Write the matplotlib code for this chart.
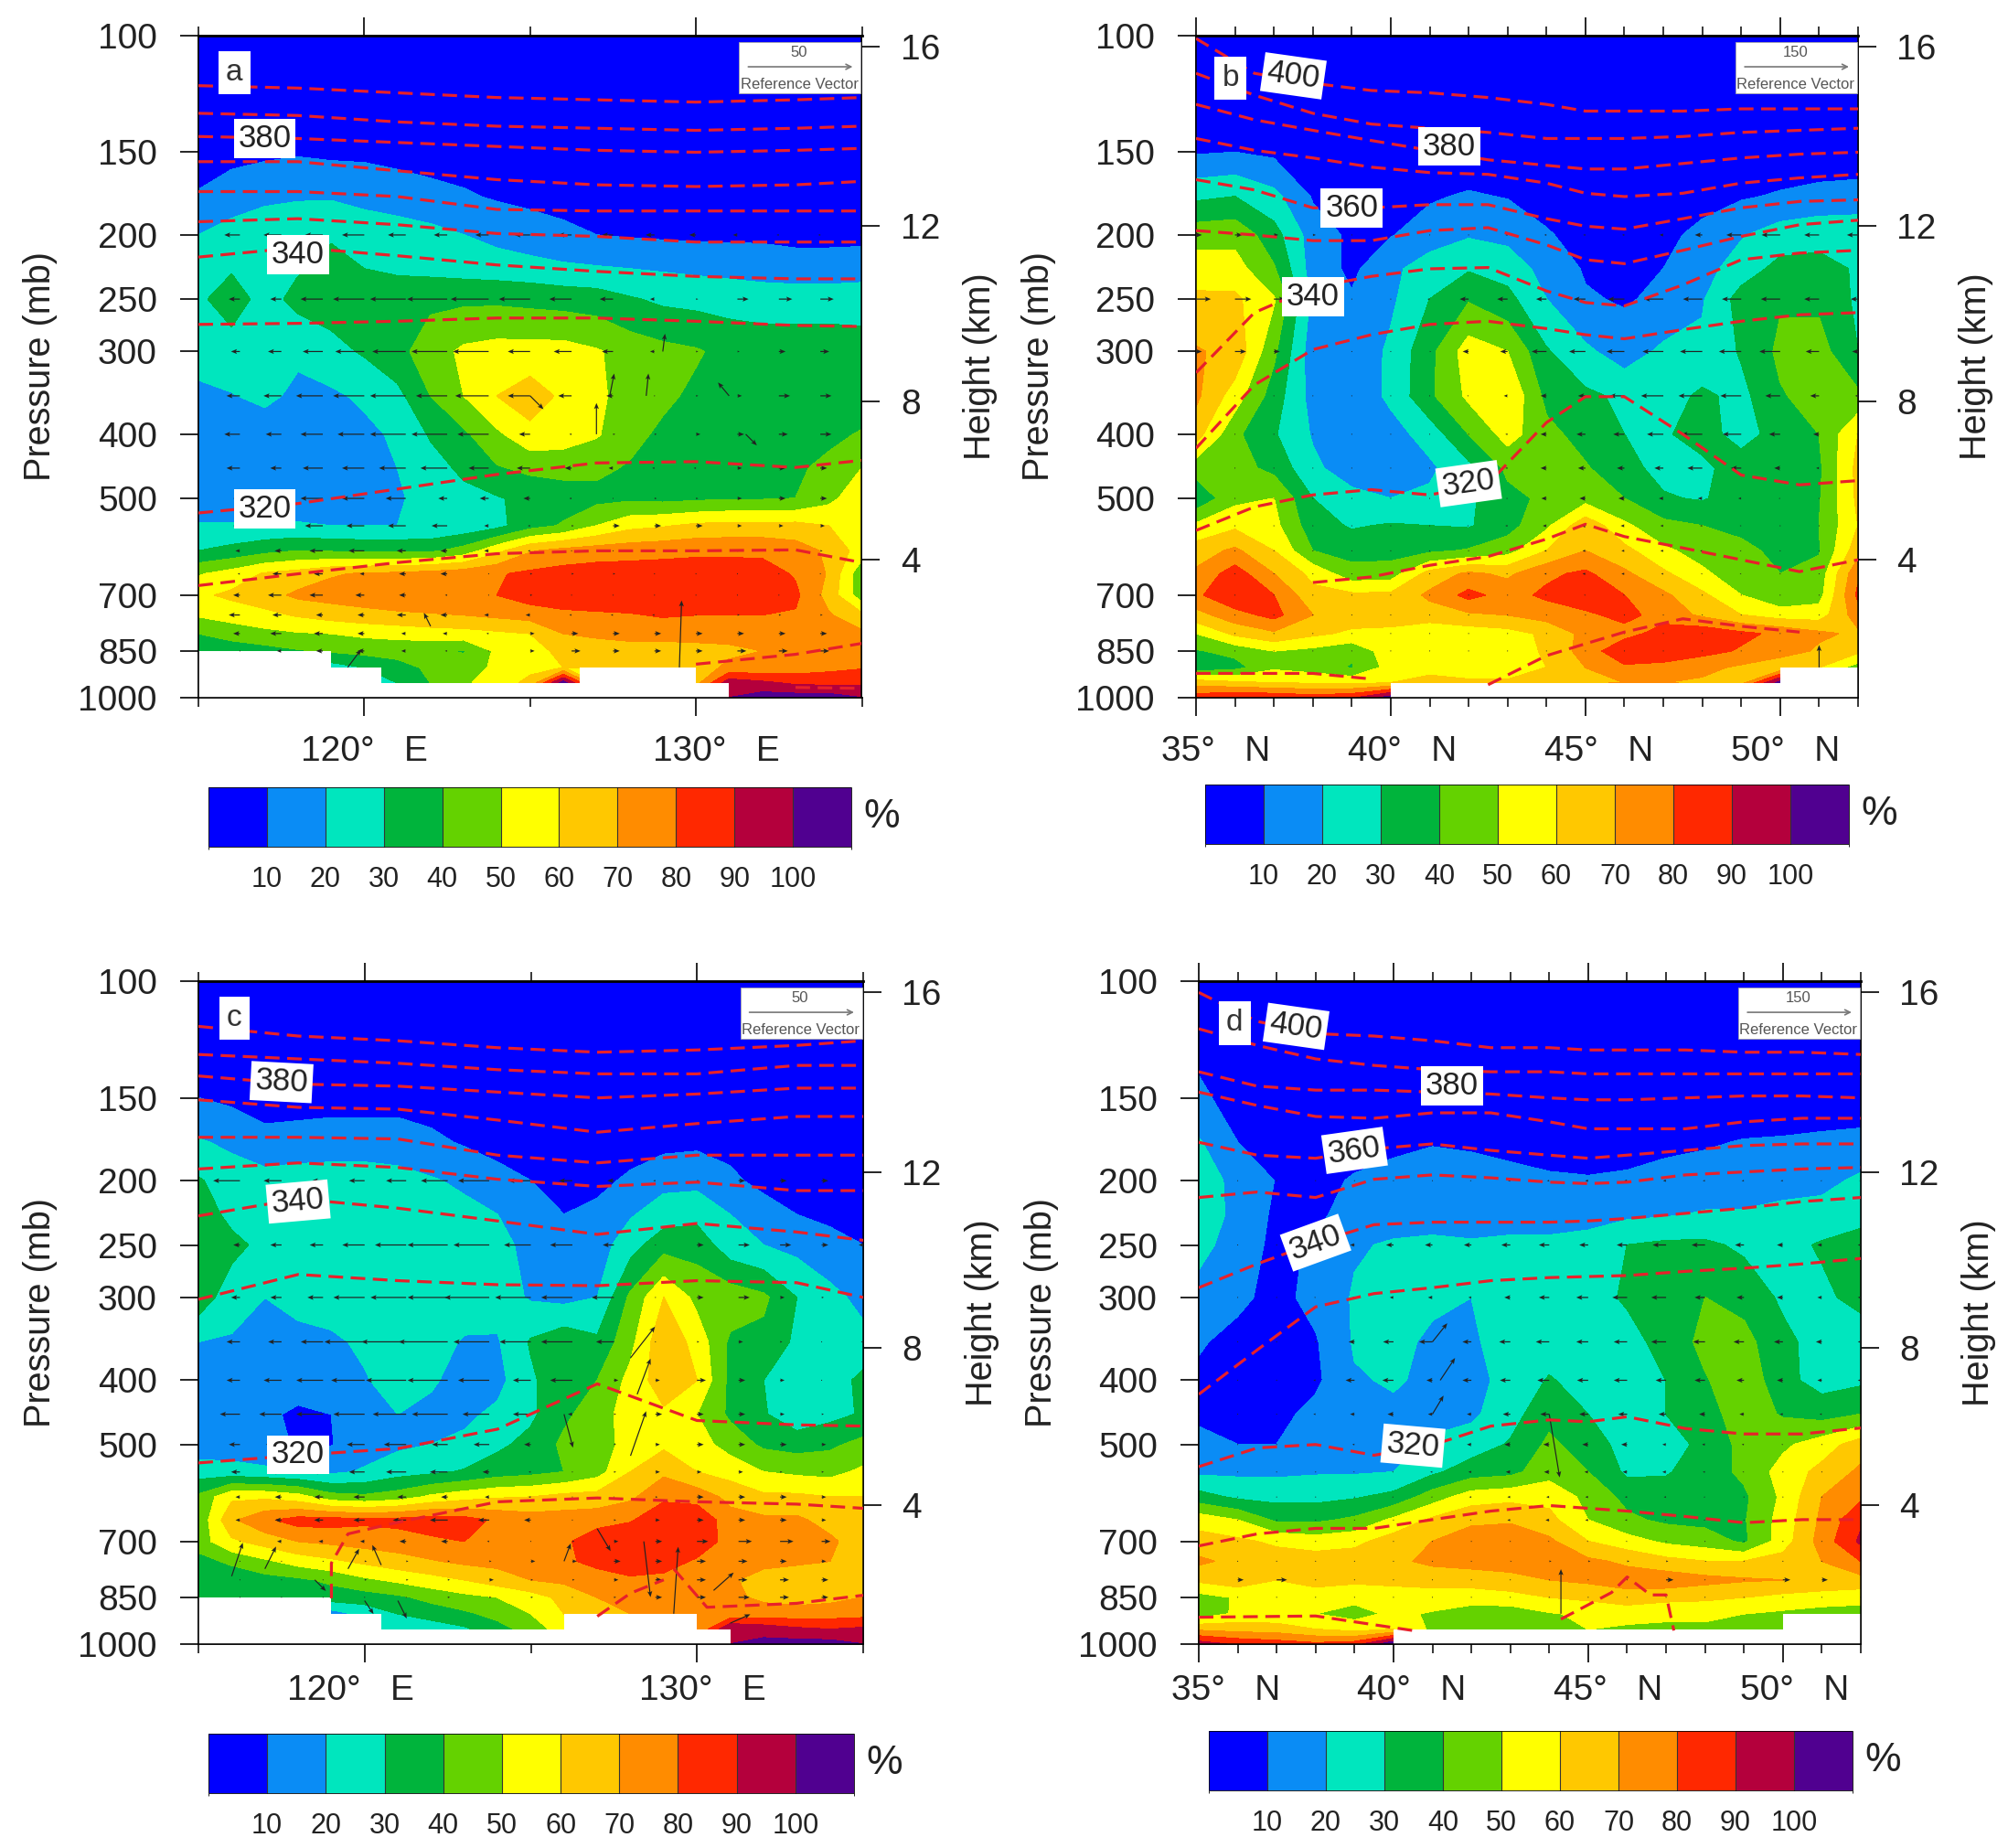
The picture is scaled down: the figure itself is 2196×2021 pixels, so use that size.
import numpy as np
import matplotlib
matplotlib.use("Agg")
import matplotlib.pyplot as plt
from matplotlib.colors import ListedColormap, BoundaryNorm
from matplotlib.patches import Rectangle
from matplotlib.ticker import NullLocator, NullFormatter
from matplotlib.transforms import ScaledTranslation

plt.rcParams["font.family"] = ["Liberation Sans", "DejaVu Sans"]

W, H = 2196, 2021

# relative humidity grid
levels_p = [100, 150, 175, 200, 225, 250, 300, 350, 400, 450, 500, 550, 600, 650, 700, 750, 800, 850, 900, 950, 1000]
lon_x = [115 + i for i in range(21)]
lat_x = [35 + i for i in range(18)]
rh_bounds = [0, 10, 20, 30, 40, 50, 60, 70, 80, 90, 100, 110]
rh_colors = ["#0000FF", "#0A8CF5", "#00E6BE", "#00B43C", "#64D200", "#FFFF00",
             "#FFC800", "#FF8C00", "#FF2800", "#B4003C", "#500090"]

rh_a = [
    [3] * 21,
    [5, 7, 8, 9, 8, 8, 7, 6, 6, 5, 5, 4, 4, 4, 4, 4, 4, 4, 4, 4, 4],
    [11, 15, 18, 19, 19, 17, 15, 13, 11, 9, 8, 7, 6, 6, 5, 5, 5, 5, 5, 5, 5],
    [20, 24, 26, 27, 29, 26, 25, 23, 20, 17, 14, 12, 10, 9, 8.5, 8, 8, 8, 7, 7, 7],
    [26, 29, 28, 29, 33, 30, 28, 27, 26, 25, 24, 22, 21, 20, 19, 18, 17, 16, 15, 15, 16],
    [28, 35, 26, 33, 34, 36, 37, 38, 38, 38, 37, 36, 35, 31, 28, 27, 26, 25, 25, 25, 25],
    [25, 25, 23, 21.5, 27, 31, 37, 45, 52, 54, 54, 54, 51, 46, 43, 41, 37, 36, 36, 36, 35],
    [17, 19.5, 22, 18, 18, 22, 27, 40, 50, 60, 65, 58, 52, 46, 42, 38, 35, 34, 34, 33, 33],
    [12, 14, 15, 15, 16, 17, 22, 31, 38, 48, 57, 55, 51, 43, 38, 36, 35, 35, 35, 37, 41],
    [13, 14, 15, 15, 15, 17, 20, 26, 32, 39, 42, 43, 42, 39, 37, 36, 36, 37, 38, 43, 50],
    [13, 13, 14, 14, 15, 16, 19, 23, 27, 29, 33, 35, 37, 38, 37, 38, 39, 39, 40, 47, 57],
    [21, 21, 21, 21, 20, 20, 20, 21, 23, 27, 36, 41, 50, 57, 59, 62, 63, 63, 63, 60, 54],
    [30, 33, 37, 40, 39, 38, 38, 38, 44, 57, 69, 73, 75, 76, 77, 78, 78, 78, 75, 68, 55],
    [49, 54, 61, 64, 69, 71, 72, 74, 76, 79, 82, 84, 85, 85, 85, 85, 85, 84, 79, 69, 42],
    [58, 62, 66, 72, 74, 76, 77, 78, 79, 80, 85, 87, 88, 88, 88, 88, 87, 87, 82, 66, 44],
    [51, 54, 57, 61, 64, 66, 68, 69, 70, 72, 74, 77, 78, 79, 81, 80, 80, 80, 79, 71, 62],
    [40, 44, 47, 49, 50, 52, 53, 55, 56, 58, 60, 70, 72, 73, 73, 73, 73, 73, 74, 72, 72],
    [32, 34, 36, 39, 41, 43, 44, 42, 39, 52, 57, 62, 64, 66, 66, 67, 68, 70, 72, 74, 76],
    [25, 25, 25, 25, 25, 30, 36, 42, 45, 52, 58, 60, 60, 60, 60, 65, 72, 72, 74, 77, 79],
    [20, 20, 20, 20, 18, 22, 30, 40, 48, 56, 62, 105, 60, 60, 60, 66, 96, 92, 88, 87, 88],
    [20, 20, 20, 20, 20, 20, 20, 20, 20, 20, 20, 20, 20, 20, 20, 20, 100, 105, 105, 105, 100],
]

rh_b = [
    [3] * 18,
    [9, 10, 8, 5, 4, 4, 4, 4, 4, 4, 4, 4, 4, 4, 4, 4, 4, 4],
    [28, 30, 23, 9, 6, 7, 9, 11, 9.5, 6, 4, 3, 4, 6, 9, 11, 13, 14],
    [46, 47, 34, 15, 8, 9.5, 14, 19, 17, 11, 6, 5, 7, 13, 19, 25, 27, 27],
    [55, 54, 41, 15, 8, 17, 26, 29, 26, 16, 9, 7, 10, 16, 25, 33, 33, 29],
    [62, 62, 51, 17, 11, 18, 30, 39, 33, 20, 11, 9, 12, 19, 34, 39, 38, 28],
    [71, 67, 42, 14, 12, 22, 37, 55, 50, 31, 22, 15, 22, 22, 31, 42, 44, 30],
    [72, 55, 35, 16, 13, 22, 38, 52, 59, 37, 32, 28, 25, 32, 27, 39, 44, 42],
    [64, 42, 31, 19, 12, 16, 24, 40, 54, 43, 36, 30, 29, 33, 27, 33, 40, 60],
    [44, 44, 37, 22, 15, 15, 18, 27, 42, 46, 41, 33, 27, 28, 34, 36, 38, 63],
    [32, 47, 50, 30, 23, 20, 22, 28, 37, 42, 46, 40, 31, 29, 35, 38, 39, 62],
    [52, 58, 53, 34, 29, 31, 30, 29, 36, 48, 67, 52, 43, 40, 38, 35, 40, 60],
    [65, 72, 60, 40, 36, 36, 38, 41, 46, 60, 70, 63, 52, 46, 42, 38, 39, 66],
    [72, 85, 70, 57, 44, 45, 64, 72, 68, 78, 82, 72, 62, 52, 44, 40, 44, 78],
    [78, 88, 80, 63, 62, 62, 72, 83, 76, 82, 86, 80, 72, 62, 50, 42, 46, 82],
    [66, 76, 83, 70, 65, 65, 65, 68, 70, 74, 78, 83, 76, 68, 60, 55, 55, 75],
    [50, 62, 68, 62, 58, 57, 52, 54, 56, 62, 73, 76, 84, 87, 82, 78, 72, 68],
    [39, 43, 50, 47, 42, 56, 58, 54, 52, 62, 74, 88, 88, 83, 79, 76, 68, 62],
    [32, 36, 48, 45, 39, 54, 58, 54, 53, 60, 70, 78, 76, 73, 68, 60, 60, 45],
    [66, 62, 60, 59, 58, 60, 62, 62, 62, 64, 68, 70, 70, 68, 66, 105, 60, 60],
    [85, 90, 88, 85, 88, 105, 100, 100, 100, 100, 100, 100, 100, 100, 100, 100, 60, 60],
]

rh_c = [
    [3] * 21,
    [10, 8, 6, 6, 7, 7, 7, 6, 5, 4, 4, 4, 4, 4, 4, 4, 4, 4, 4, 4, 4],
    [21, 18, 13, 14, 14, 14, 14, 12, 9, 6, 5, 4, 4, 5, 7, 8, 7, 5, 4, 4, 3],
    [31, 25, 24, 25, 26, 26, 24, 21, 18, 14, 10, 7, 7, 12, 17, 17, 12, 7, 5, 5, 4],
    [36, 27, 26, 26, 26, 26, 25, 25, 23, 20, 14, 10, 13, 19, 25, 27, 20, 15, 10, 8, 6],
    [38, 33, 27, 26, 26, 26, 26, 26, 26, 23, 17, 13, 15, 26, 36, 36, 24, 20, 17, 13, 10],
    [36, 24, 20, 22, 25, 26, 25, 25, 25, 24, 19, 17, 20, 42, 60, 47, 46, 42, 30, 23, 17],
    [20, 19, 18, 18, 18, 22, 26, 24, 19, 19, 31, 37, 32, 47, 68, 56, 38, 37, 28, 25, 23],
    [15, 16, 16, 15, 15, 19, 25, 21, 17, 17, 28, 38, 40, 53, 66, 60, 37, 30, 23, 24, 33],
    [14, 13, 12, 8, 10, 16, 20, 18, 18, 22, 28, 38, 45, 55, 58, 50, 38, 31, 23, 27, 31],
    [14, 14, 13, 9, 9.5, 16, 18, 20, 22, 28, 33, 42, 45, 54, 58, 54, 46, 38, 36, 38, 43],
    [25, 24, 22, 20, 18, 21, 26, 28, 31, 35, 37, 40, 46, 60, 68, 60, 56, 50, 48, 47, 52],
    [42, 58, 58, 54, 44, 42, 45, 52, 56, 59, 60, 63, 64, 68, 78, 76, 67, 62, 62, 60, 60],
    [42, 68, 78, 84, 84, 82, 83, 85, 84, 78, 75, 75, 76, 79, 87, 88, 74, 72, 72, 66, 62],
    [45, 58, 64, 70, 72, 74, 75, 78, 80, 76, 73, 78, 86, 88, 89, 88, 75, 74, 74, 72, 64],
    [36, 42, 48, 54, 58, 62, 66, 69, 72, 73, 74, 78, 83, 87, 86, 78, 72, 72, 71, 70, 66],
    [31, 33, 36, 38, 42, 48, 52, 56, 60, 65, 70, 72, 75, 78, 76, 72, 71, 67, 66, 65, 66],
    [31, 32, 33, 34, 35, 35, 38, 43, 47, 50, 55, 63, 70, 72, 73, 72, 72, 68, 66, 67, 70],
    [20, 20, 20, 20, 15, 23, 30, 34, 38, 43, 50, 60, 68, 70, 72, 75, 72, 74, 74, 75, 76],
    [20, 20, 20, 20, 20, 22, 22, 24, 28, 36, 44, 55, 66, 70, 70, 70, 100, 96, 92, 90, 92],
    [20, 20, 20, 20, 20, 20, 20, 20, 20, 20, 20, 20, 20, 20, 20, 20, 100, 103, 104, 104, 100],
]

rh_d = [
    [3] * 18,
    [12, 6, 5, 4, 4, 4, 4, 4, 4, 4, 4, 4, 4, 4, 4, 4, 4, 4],
    [21, 10, 6, 5, 6, 8, 9.5, 9, 8, 7, 7, 7.5, 8, 9, 10.5, 11, 12, 13],
    [25, 17, 9.5, 7, 11, 13, 14, 13, 12, 11, 10.5, 11, 13, 14, 15, 16, 17, 22],
    [26, 17, 8, 8, 14, 16, 16, 16, 16, 16, 16, 18, 19, 21, 21, 23, 24, 26],
    [24, 14, 8, 11, 19, 21, 22, 21, 22, 22, 24, 30, 32, 32, 28, 27, 31, 35],
    [15, 12, 7, 13, 21, 24, 22, 20, 24, 25, 27, 31, 37, 40, 37, 28, 28, 33],
    [11, 7, 6, 9, 21, 23, 18, 19, 23, 24, 26, 27, 33, 43, 43, 33, 25, 24],
    [8, 5, 5, 8, 19, 21, 18, 18, 22, 31, 25, 24, 30, 39, 47, 33, 26, 28],
    [8, 6, 7, 13, 16, 18, 18, 18, 26, 37, 30, 25, 30, 36, 45, 39, 36, 40],
    [13, 10, 10, 15, 16, 17, 21, 25, 31, 42, 35, 26, 25, 33, 43, 48, 55, 65],
    [18, 18, 18, 19, 19, 20, 28, 35, 37, 46, 40, 28, 29, 35, 42, 54, 63, 72],
    [34, 28, 27, 27, 29, 33, 45, 55, 57, 57, 47, 37, 35, 35, 38, 52, 70, 78],
    [56, 50, 38, 38, 42, 52, 62, 68, 69, 63, 50, 42, 38, 37, 39, 54, 72, 88],
    [64, 62, 58, 55, 57, 65, 70, 75, 75, 72, 60, 54, 48, 45, 38, 55, 74, 92],
    [72, 67, 65, 65, 66, 68, 72, 74, 74, 75, 72, 68, 63, 60, 60, 64, 70, 80],
    [62, 66, 60, 64, 62, 62, 64, 64, 67, 70, 72, 75, 76, 73, 71, 70, 68, 66],
    [46, 51, 52, 54, 53, 56, 55, 55, 56, 60, 62, 65, 63, 62, 60, 57, 55, 54],
    [43, 52, 52, 50, 46, 52, 49, 44, 44, 49, 52, 54, 52, 52, 50, 48, 46, 45],
    [68, 66, 65, 60, 56, 60, 48, 48, 48, 50, 50, 48, 48, 48, 48, 45, 45, 45],
    [95, 88, 85, 82, 85, 108, 50, 50, 50, 50, 50, 50, 50, 50, 50, 50, 50, 50],
]

# terrain (white steps at the bottom): edges in degrees, top pressure of each step
terrain_a_x = [115, 119, 120.5, 126.5, 130, 131]
terrain_a_p = [850, 900, 950, 900, 950]
terrain_b_x = [40, 50, 52]
terrain_b_p = [950, 900]
terrain_c_x = [115, 119, 120.5, 126, 130, 131]
terrain_c_p = [850, 900, 950, 900, 950]
terrain_d_x = [40, 50, 52]
terrain_d_p = [950, 900]

# wind vectors
vec_p = [200, 250, 300, 350, 400, 450, 500, 550, 600, 650, 700, 750, 800, 850]
vec_lon = [115 + 1.25 * i for i in range(17)]
vec_lat = [35 + i for i in range(18)]

u_a = [
    [-5, -7, -8, -8, -10, -8, -6, -6, -7, -6, -5, -4, -3, -2, -1, -1, -1],
    [-2, -5, -5, -10, -14, -16, -18, -17, -14, -10, -6, -2, 1, 5, 6, 6, 6],
    [-3, -4, -6, -9, -13, -15, -16, -16, -10, -8, -5, -2, 1, 1, 3, 4, 5],
    [-5, -6, -8, -12, -14, -16, -14, -15, -10, -6, -3, 0, 1, 2, 5, 5, 5],
    [-5, -7, -7, -10, -12, -16, -16, -14, -5, -1, 1, 1, 2, 3, 4, 5, 5],
    [-3, -6, -5, -9, -10, -12, -12, -9, -6, -3, -2, -1, -1, 2, 3, 3, 3],
    [-3, -3, -8, -10, -10, -9, -4, -4, -3, -1, 0, 1, 1, 2, 3, 3, 3],
    [-3, -3, -8, -8, -8, -8, -7, -2, -1, 1, 3, 3, 3, 2, 2, 2, 2],
    [0, -2, -3, -6, -7, -4, -3, -2, -1, 0, 0, 0, 1, 1, 1, 1, 0],
    [0, -1, -4, -4, -2, -3, -3, 0, 1, 1, 1, 0, 0, 0, 0, 0, 0],
    [-1, -3, -6, -6, -4, -3, -1, 0, 1, 0, 0, 0, 0, 0, 0, 0, 0],
    [-3, -5, -4, -3, -3, -4, -3, -2, -2, -1, -1, -1, 0, 1, 1, 1, 1],
    [0, -3, -5, -4, -3, -2, -2, -1, 2, 3, 3, 3, 3, 3, 3, 3, 2],
    [0, 0, -2, -3, -3, -2, -1, 0, 2, 4, 3, 3, 3, 4, 4, 4, 3],
]
u_b = [
    [8, 10, 6, 4, 0, 0, 0, 0, -3, -3, -3, -3, -5, -10, -20, -25, -20, -15],
    [20, 22, 15, 5, 0, 0, -3, -12, -14, -14, -16, -22, -26, -26, -26, -26, -20, -10],
    [8, 15, 8, 2, 1, 1, 2, -8, -10, -20, -22, -24, -28, -30, -30, -28, -18, -8],
    [0, 0, 1, 1, 1, 1, 0, -2, -5, -8, -10, -20, -30, -32, -28, -20, -12, -4],
    [0, 0, 1, 1, 1, 0, 1, -1, -3, -8, -12, -15, -22, -28, -25, -15, -8, -2],
    [0, 0, 1, 1, 1, 1, 1, 0, -3, -8, -10, -10, -12, -20, -14, -8, -4, -1],
    [0, 0, 0, 0, 0, 0, 0, 0, -2, -7, -8, -8, -6, -6, -4, -2, -1, 0],
    [0, 0, 0, 0, -1, -1, -1, -2, -3, -5, -6, -5, -4, -3, -2, -1, 0, 0],
    [0, 0, 0, 0, 0, -1, -1, -1, -2, -3, -4, -4, -4, -3, -2, -1, 0, 0],
    [0, 0, 0, 0, 0, 0, -1, -1, -2, -3, -4, -4, -3, -2, -2, -1, 0, 0],
    [0, 0, 1, 1, 0, 0, 0, 0, -1, -2, -2, -2, -2, -1, -1, 0, 0, 0],
    [0, 1, 1, 0, 0, 1, 1, 1, 0, 0, -1, -1, -1, 0, 0, 0, 0, 0],
    [0, 0, 1, 0, 0, 0, 0, 0, 0, 0, 0, 0, 0, 0, 0, 0, 0, 0],
    [0, 1, 1, 0, 0, 0, 0, 0, 0, 0, 0, 0, 0, 0, 0, 0, 0, 0],
]
u_c = [
    [-9, -12, -8, -5, -7, -9, -12, -14, -10, -6, -3, -1, 1, 3, 3, 3, 3],
    [-3, -3, -5, -6, -10, -14, -18, -16, -12, -10, -5, 0, 3, 5, 5, 3, -2],
    [-4, -4, -5, -7, -14, -16, -18, -20, -16, -14, -10, 0, 3, 5, 2, 1, 0],
    [-6, -6, -6, -10, -18, -20, -22, -16, -14, -14, -8, 0, 1, 2, 1, 0, -1],
    [-5, -6, -8, -12, -15, -18, -18, -14, -8, -10, 2, 2, 4, 3, 2, 0, 0],
    [-5, -9, -10, -12, -14, -15, -16, -12, -8, -2, 1, 3, 3, 3, 2, 1, 0],
    [-3, -5, -7, -9, -8, -10, -7, -7, -3, 0, 1, 2, 3, 3, 3, 2, 1],
    [-2, -4, -5, -5, -7, -9, -8, -3, -1, 0, 1, 2, 2, 2, 1, 1, 1],
    [0, -2, -3, -4, -5, -4, -3, -2, -1, 0, 0, 1, 3, 3, 3, 2, 1],
    [0, -2, -3, -4, -5, -6, -8, -5, -3, 0, 1, 2, 3, 3, 3, 2, 1],
    [0, 0, -2, -2, -2, -3, -3, -1, 0, 1, 2, 3, 5, 6, 6, 4, 1],
    [0, 0, 0, 0, 1, 1, 1, 1, 2, 2, 3, 3, 4, 4, 3, 2, 1],
    [0, 0, 0, 0, 1, 1, 1, 2, 1, 1, 2, 3, 4, 4, 4, 3, 1],
    [0, 0, 0, 0, 0, 0, 1, 1, 1, 0, 1, 3, 4, 5, 4, 3, 1],
]
u_d = [
    [0, 0, 0, 0, 0, 0, 0, -2, -3, -3, -4, -4, -4, -3, -3, -3, -2, -2],
    [0, 0, -1, -2, -6, -10, -10, -10, -12, -14, -12, -14, -18, -18, -12, -8, -6, -4],
    [0, 0, -1, -2, -3, -5, -6, -4, -8, -14, -16, -20, -20, -14, -10, -8, -6, -4],
    [0, 0, 0, 0, -8, -14, -18, -12, -15, -18, -16, -18, -20, -16, -14, -12, -8, -4],
    [0, 0, -1, -3, -12, -15, -8, -12, -14, -16, -15, -18, -14, -14, -10, -8, -6, -4],
    [0, 0, -1, -3, -6, -8, -6, -6, -10, -12, -12, -12, -10, -8, -6, -4, -3, -2],
    [0, 0, 0, -2, -3, -5, -5, -6, -8, -8, -8, -8, -5, -4, -3, -2, -1, 0],
    [0, 0, 0, 0, -2, -2, -3, -4, -6, -7, -5, -6, -5, -3, -2, -1, 0, 0],
    [0, 0, -1, -1, -1, -2, -2, -3, -4, -4, -4, -3, -3, -2, -1, 0, 0, 0],
    [0, 0, 0, 0, -1, -1, -2, -2, -4, -5, -4, -3, -2, -2, -1, 0, 0, 0],
    [0, 0, 0, 0, 0, 0, 0, 0, -1, -2, -2, -2, -1, -1, 0, 0, 0, 0],
    [0, 0, 0, 0, 1, 1, 0, 0, 2, 3, 3, 3, 3, 2, 1, 0, 0, 0],
    [0, 8, 14, 0, 0, 0, 1, 1, 1, 1, 1, 1, 10, 1, 1, 10, 8, 4],
    [0, 0, 0, 0, 0, 0, 0, 0, 0, 0, 0, 0, 0, 0, 0, 0, 0, 0],
]

# strong, tilted arrows: lon/lat, pressure, u, w
big_a = [(129.5, 900, 1, 30), (119.5, 900, 6, 8), (127, 400, 0, 14), (127.4, 350, 2, 10), (128.5, 350, 1, 10),
         (129, 300, 1, 8), (131, 350, -5, 6), (122, 780, -3, 6), (125, 350, 6, -6), (131.5, 400, 5, -5)]
big_b = [(51, 900, 0, 30)]
big_c = [(129.3, 900, 2, 30), (128.4, 700, 3, -25), (128.2, 420, 6, 16), (128, 520, 7, 20), (128, 370, 11, 14),
         (126, 450, 4, -15), (126, 750, 3, 8), (127, 670, 6, -10), (130.5, 830, 9, 8), (131, 930, 9, 4),
         (116, 790, 5, 15), (117, 770, 5, 10), (119.5, 770, 5, 9), (120.5, 760, -4, 9), (118.5, 800, 5, -5),
         (120, 860, 4, -6), (121, 860, 4, -8)]
big_d = [(44, 450, 14, -85), (44.3, 900, 0, 60), (41, 450, 15, 25), (41, 350, 20, 25), (41.2, 400, 20, 30)]

# theta contours: one x list for each panel, pressure along x
theta_a_x = [115, 118, 121, 124, 127, 130, 133, 135]
theta_a = [
    [119, 120, 122, 124, 125, 126, 125, 124],
    [131, 132, 135, 137, 138, 139, 138, 137],
    [142, 143, 145, 147, 149, 150, 149, 148],
    [155, 155, 160, 165, 168, 169, 168, 166],
    [172, 172, 175, 183, 184, 184, 184, 184],
    [191, 189, 193, 199, 201, 205, 205, 205],
    [216, 209, 215, 222, 227, 231, 233, 233],
    [273, 272, 270, 267, 267, 270, 274, 275],
    [526, 509, 484, 460, 442, 440, 449, 438],
    [677, 650, 625, 606, 600, 600, 598, 625],
    [np.nan, np.nan, np.nan, np.nan, np.nan, 890, 860, 828],
    [np.nan, np.nan, np.nan, np.nan, np.nan, np.nan, 965, 968],
]
theta_b_x = [35, 36.5, 38, 39.5, 41, 42.5, 44, 45, 46, 47.5, 49, 50.5, 52]
nan2 = [np.nan, np.nan]
theta_b = [
    [101, 114, 118, 121, 122, 124, 127, 130, 130, 130, 129, 129, 129],
    [114, 123, 131, 136, 138, 140, 143, 143, 143, 142, 140, 139, 138],
    [127, 134, 139, 144, 149, 154, 157, 159, 159, 156, 153, 151, 150],
    [143, 149, 153, 158, 161, 162, 167, 173, 175, 173, 167, 164, 162],
    [165, 171, 182, 182, 180, 180, 189, 194, 196, 189, 182, 178, 177],
    [197, 200, 204, 204, 197, 195, 207, 218, 221, 211, 201, 193, 190],
    [323, 262, 240, 231, 225, 224, 243, 253, 256, 238, 218, 213, 211],
    [420, 337, 298, 283, 273, 270, 277, 283, 287, 278, 270, 264, 262],
    [559, 515, 494, 485, 494, 475, 384, 351, 351, 400, 461, 477, 470],
    nan2 + [670, 657, 631, 612, 576, 547, 571, 594, 619, 645, 619],
    [919, 919, 919, 937] + [np.nan] * 9,
    [np.nan] * 5 + [956, 864, 829, 796, 760, 780, 796, np.nan],
]
theta_c_x = [115, 118, 121, 124, 127, 130, 133, 135]
theta_c = [
    [117, 121, 123, 126, 128, 127, 125, 123],
    [129, 131, 133, 136, 138, 138, 134, 134],
    [139, 143, 144, 147, 150, 148, 145, 145],
    [151, 155, 156, 162, 169, 164, 160, 160],
    [172, 172, 173, 183, 188, 183, 183, 183],
    [192, 188, 191, 199, 204, 201, 207, 207],
    [226, 213, 220, 230, 241, 232, 239, 246],
    [302, 277, 283, 287, 288, 283, 285, 300],
    [533, 519, 507, 474, 405, 460, 467, 469],
]
theta_c_extra = [
    ([119, 119, 119.5, 121, 124, 127, 130, 133, 135], [853, 755, 682, 655, 610, 602, 610, 615, 624]),
    ([127, 128, 129], [908, 838, 800]),
    ([129.3, 130.3, 133, 135], [770, 880, 868, 844]),
]
theta_d_x = [35, 36.5, 38, 39.5, 41, 42.5, 44, 45, 46, 47.5, 49, 50.5, 52]
theta_d = [
    [104, 115, 120, 121, 123, 126, 126, 127, 127, 127, 128, 128, 129],
    [118, 125, 131, 134, 136, 137, 137, 138, 138, 138, 138, 138, 138],
    [137, 144, 146, 146, 147, 148, 150, 151, 151, 150, 149, 149, 150],
    [147, 154, 160, 161, 158, 158, 163, 167, 167, 167, 163, 161, 161],
    [175, 183, 185, 179, 176, 180, 183, 185, 183, 180, 177, 176, 176],
    [212, 208, 212, 199, 196, 198, 201, 202, 201, 196, 194, 192, 191],
    [290, 267, 248, 233, 231, 231, 231, 230, 228, 224, 220, 215, 212],
    [420, 360, 310, 296, 290, 283, 280, 279, 278, 274, 271, 267, 262],
    [540, 506, 500, 519, 501, 469, 459, 462, 454, 473, 482, 482, 472],
    [711, 682, 669, 669, 649, 630, 618, 624, 630, 642, 656, 649, 649],
]
theta_d_extra = [
    ([35, 38, 39.5, 40.5], [911, 907, 935, 954]),
    ([44.3, 45.6, 46, 46.6, 47, 47.2], [917, 836, 792, 843, 843, 954]),
]

# theta label: x, pressure, text, rotation
labels_a = [(117, 143, "380", 0), (118, 214, "340", 0), (117, 519, "320", 0)]
labels_b = [(37.5, 115, "400", -8), (41.5, 147, "380", 0), (39, 182, "360", 0), (38, 248, "340", 0), (42, 475, "320", 8)]
labels_c = [(117.5, 142, "380", -3), (118, 215, "340", 5), (118, 518, "320", 0)]
labels_d = [(37.5, 117, "400", -8), (41.5, 144, "380", 0), (39, 180, "360", 8), (38, 248, "340", 20), (40.5, 502, "320", -5)]

p_ticks = [100, 150, 200, 250, 300, 400, 500, 700, 850, 1000]
height_ticks = ["16", "12", "8", "4"]
height_p = [104, 194, 357, 618]
cbar_ticks = [10, 20, 30, 40, 50, 60, 70, 80, 90, 100]

panels = [
    dict(name="a", box=(217, 39, 942.5, 763), cbar=(228, 861, 931, 926), grid=rh_a, gx=lon_x, u=u_a, ux=vec_lon, big=big_a,
         tx=theta_a_x, theta=theta_a, extra=[], labels=labels_a, ter=(terrain_a_x, terrain_a_p), refv="50", sc=50, xpad=15,
         major=[120, 130], minor=[115, 125, 135], xl=["120°   E", "130°   E"], off=[0, 22], lim=(115, 135), letter=(0.054, 0.944)),
    dict(name="b", box=(1308, 39, 2032, 763), cbar=(1318, 858, 2022, 923), grid=rh_b, gx=lat_x, u=u_b, ux=vec_lat, big=big_b,
         tx=theta_b_x, theta=theta_b, extra=[], labels=labels_b, ter=(terrain_b_x, terrain_b_p), refv="150", sc=150, xpad=15,
         major=[35, 40, 45, 50], minor=list(range(36, 53)), xl=["35°   N", "40°   N", "45°   N", "50°   N"], off=[22, 13, 15, 6],
         lim=(35, 52), letter=(0.052, 0.936)),
    dict(name="c", box=(217, 1073, 944, 1798), cbar=(228, 1896, 934, 1961), grid=rh_c, gx=lon_x, u=u_c, ux=vec_lon, big=big_c,
         tx=theta_c_x, theta=theta_c, extra=theta_c_extra, labels=labels_c, ter=(terrain_c_x, terrain_c_p), refv="50", sc=50, xpad=9,
         major=[120, 130], minor=[115, 125, 135], xl=["120°   E", "130°   E"], off=[-15, 6], lim=(115, 135), letter=(0.054, 0.944)),
    dict(name="d", box=(1311, 1073, 2035, 1798), cbar=(1322, 1893, 2026, 1958), grid=rh_d, gx=lat_x, u=u_d, ux=vec_lat, big=big_d,
         tx=theta_d_x, theta=theta_d, extra=theta_d_extra, labels=labels_d, ter=(terrain_d_x, terrain_d_p), refv="150", sc=150, xpad=9,
         major=[35, 40, 45, 50], minor=list(range(36, 53)), xl=["35°   N", "40°   N", "45°   N", "50°   N"], off=[30, 20, 22, 13],
         lim=(35, 52), letter=(0.054, 0.937)),
]

cmap = ListedColormap(rh_colors)
norm = BoundaryNorm(rh_bounds, cmap.N)


def px_axes(fig, box):
    left, top, right, bottom = box
    return fig.add_axes([left / W, 1 - bottom / H, (right - left) / W, (bottom - top) / H])


def draw_panel(fig, pan):
    ax = px_axes(fig, pan["box"])
    ax.set_yscale("log")
    cf = ax.contourf(pan["gx"], levels_p, np.array(pan["grid"], dtype=float), levels=rh_bounds, cmap=cmap, norm=norm)
    cf.set_edgecolor("face")
    cf.set_linewidth(0.4)

    # ground
    ax.stairs(pan["ter"][1], pan["ter"][0], baseline=1000, fill=True, color="white", zorder=2)

    # wind
    ux = pan["ux"]
    scale = pan["sc"] / 1.22
    qkw = dict(angles="uv", units="inches", scale_units="inches", scale=scale, width=0.012, headwidth=4.5,
               headlength=5.5, headaxislength=4.5, minlength=1.0, color="#222222", zorder=3)
    xx, pp = np.meshgrid(ux, vec_p)
    uu = np.array(pan["u"], dtype=float)
    ax.quiver(xx, pp, uu, np.zeros_like(uu), **qkw)
    big = np.array(pan["big"], dtype=float)
    ax.quiver(big[:, 0], big[:, 1], big[:, 2], big[:, 3], **qkw)

    # theta
    lkw = dict(color="#E8202A", lw=2.3, ls=(0, (5, 2.6)), zorder=4)
    for line in pan["theta"]:
        ax.plot(pan["tx"], line, **lkw)
    for ex_x, ex_p in pan["extra"]:
        ax.plot(ex_x, ex_p, **lkw)
    for lx, lp, txt, rot in pan["labels"]:
        ax.text(lx, lp, txt, fontsize=25, color="#222222", rotation=rot, ha="center", va="center", zorder=6,
                bbox=dict(fc="white", ec="none", pad=3.5))

    ax.set_xlim(*pan["lim"])
    ax.set_ylim(1000, 100)

    ax.set_yticks(p_ticks)
    ax.set_yticklabels([str(v) for v in p_ticks], fontsize=28, color="#222222")
    ax.yaxis.set_minor_locator(NullLocator())
    ax.yaxis.set_minor_formatter(NullFormatter())
    ax.tick_params(axis="y", which="major", length=14.5, width=1.2, pad=18)
    ax.set_ylabel("Pressure (mb)", fontsize=28.5, color="#222222")
    ax.yaxis.set_label_coords(-0.212, 0.5)

    ax.set_xticks(pan["major"])
    ax.set_xticklabels(pan["xl"], fontsize=28, color="#222222")
    ax.set_xticks(pan["minor"], minor=True)
    ax.tick_params(axis="x", which="major", length=14.5, width=1.2, top=True, pad=pan["xpad"])
    ax.tick_params(axis="x", which="minor", length=7, width=1.1, top=True)
    for lab, dx in zip(ax.get_xticklabels(), pan["off"]):
        lab.set_transform(lab.get_transform() + ScaledTranslation(dx / 100, 0, fig.dpi_scale_trans))

    ax2 = ax.twinx()
    ax2.set_yscale("log")
    ax2.set_ylim(1000, 100)
    ax2.set_yticks(height_p)
    ax2.set_yticklabels(height_ticks, fontsize=28, color="#222222")
    ax2.yaxis.set_minor_locator(NullLocator())
    ax2.yaxis.set_minor_formatter(NullFormatter())
    ax2.tick_params(axis="y", which="major", length=14.5, width=1.2, pad=16)
    ax2.set_ylabel("Height (km)", fontsize=28.5, color="#222222")
    ax2.yaxis.set_label_coords(1.152, 0.5)

    for a in (ax, ax2):
        for sp in a.spines.values():
            sp.set_linewidth(1.1)
    ax.spines["top"].set_linewidth(2)
    ax.set_zorder(ax2.get_zorder() + 1)
    ax.patch.set_visible(False)

    # panel letter
    ax.text(pan["letter"][0], pan["letter"][1], pan["name"], transform=ax.transAxes, fontsize=24, color="#333333",
            ha="center", va="center", zorder=7, bbox=dict(fc="white", ec="none", pad=6))

    # reference vector box
    ax.add_patch(Rectangle((0.815, 0.913), 0.183, 0.077, transform=ax.transAxes, fc="white", ec="#aaaaaa", lw=0.6, zorder=7))
    ax.text(0.905, 0.974, pan["refv"], transform=ax.transAxes, fontsize=12, color="#555555", ha="center", va="center", zorder=8)
    ax.annotate("", xy=(0.99, 0.953), xytext=(0.825, 0.953), xycoords="axes fraction", textcoords="axes fraction", zorder=8,
                arrowprops=dict(arrowstyle="->", color="#777777", lw=1.2))
    ax.text(0.906, 0.926, "Reference Vector", transform=ax.transAxes, fontsize=12, color="#555555", ha="center", va="center", zorder=8)

    # colour bar
    cax = px_axes(fig, pan["cbar"])
    cb = fig.colorbar(cf, cax=cax, orientation="horizontal", ticks=cbar_ticks, drawedges=True, spacing="uniform")
    cb.dividers.set_color("#333333")
    cb.dividers.set_linewidth(0.8)
    cb.outline.set_linewidth(0.6)
    cax.tick_params(length=0, pad=15, labelsize=22, labelcolor="#222222")
    cax.text(1.047, 0.5, "%", transform=cax.transAxes, fontsize=32, color="#222222", ha="center", va="center")


def main():
    fig = plt.figure(figsize=(W / 100, H / 100), dpi=100, facecolor="white")
    for pan in panels:
        draw_panel(fig, pan)
    fig.savefig("out.png", dpi=100, facecolor="white")
    plt.close(fig)


if __name__ == "__main__":
    main()
